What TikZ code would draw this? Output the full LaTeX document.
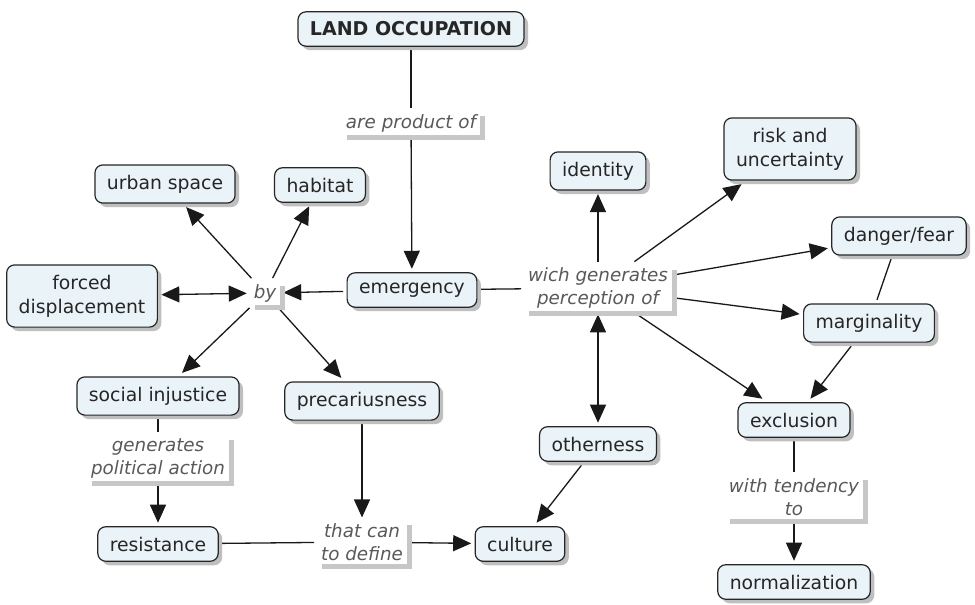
\documentclass[tikz,border=0pt]{standalone}
\usepackage{fontspec}
\setmainfont{DejaVu Sans}
\usetikzlibrary{arrows.meta,shadows}
\definecolor{nodefill}{RGB}{234,243,247}
\pgfdeclarelayer{background}
\pgfsetlayers{background,main}
\begin{document}
\begin{tikzpicture}[x=1pt,y=-1pt,
  concept/.style={draw=black!85, line width=1.2pt, fill=nodefill, rounded corners=8pt,
    inner xsep=12pt, inner ysep=10pt, align=center, font=\fontsize{18.8}{24}\selectfont,
    text=black!85, outer sep=4pt,
    drop shadow={shadow xshift=4pt, shadow yshift=-4pt, fill=black!25, opacity=1}},
  lbl/.style={fill=white, inner xsep=4pt, inner ysep=3pt, align=center,
    font=\fontsize{18.3}{23}\selectfont\itshape, text=black!65, outer sep=3pt,
    drop shadow={shadow xshift=5pt, shadow yshift=-5pt, fill=black!22, opacity=1}},
  conn/.style={line width=1.3pt, draw=black!90},
  arr/.style={conn, -{Triangle[length=18pt,width=16pt]}},
  darr/.style={conn, {Triangle[length=18pt,width=16pt]}-{Triangle[length=18pt,width=16pt]}}
]
\useasboundingbox (0,0) rectangle (975,605);
\begin{pgfonlayer}{background}
\fill[white] (0,0) rectangle (975,605);
\end{pgfonlayer}

% concepts
\node[concept, font=\fontsize{19}{24}\selectfont\bfseries] (land) at (411,29) {LAND OCCUPATION};
\node[concept] (emerg) at (412,290) {emergency};
\node[concept] (urban) at (165,184) {urban space};
\node[concept] (habitat) at (320,185) {habitat};
\node[concept] (forced) at (82,296) {forced\\displacement};
\node[concept] (social) at (158,396) {social injustice};
\node[concept] (prec) at (362,401) {precariusness};
\node[concept] (resist) at (158,544) {resistance};
\node[concept] (culture) at (520,544) {culture};
\node[concept] (other) at (598,444) {otherness};
\node[concept] (ident) at (598,171) {identity};
\node[concept] (risk) at (790,149) {risk and\\uncertainty};
\node[concept] (danger) at (899,236) {danger/fear};
\node[concept] (margin) at (869,323) {marginality};
\node[concept] (excl) at (794,420) {exclusion};
\node[concept] (norm) at (794,582) {normalization};

% link labels
\node[lbl] (prod) at (411,123) {are product of};
\node[lbl] (by) at (265,293) {by};
\node[lbl] (wich) at (598,288) {wich generates\\perception of};
\node[lbl] (gen) at (158,458) {generates\\political action};
\node[lbl] (that) at (362,542) {that can\\to define};
\node[lbl] (tend) at (794,497) {with tendency\\to};

\begin{pgfonlayer}{background}
\draw[conn] (land) -- (prod);
\draw[arr] (prod) -- (emerg);
\draw[arr] (emerg) -- (by);
\draw[arr] (by) -- (urban);
\draw[arr] (by) -- (habitat);
\draw[darr] (forced) -- (by);
\draw[arr] (by) -- (social);
\draw[arr] (by) -- (prec);
\draw[conn] (emerg) -- (wich);
\draw[arr] (wich) -- (ident);
\draw[arr] (wich) -- (risk);
\draw[arr] (wich) -- (danger);
\draw[arr] (wich) -- (margin);
\draw[arr] (wich) -- (excl);
\draw[darr] (wich) -- (other);
\draw[conn] (danger) -- (margin);
\draw[arr] (margin) -- (excl);
\draw[conn] (excl) -- (tend);
\draw[arr] (tend) -- (norm);
\draw[conn] (social) -- (gen);
\draw[arr] (gen) -- (resist);
\draw[conn] (resist) -- (that);
\draw[arr] (prec) -- (that);
\draw[arr] (that) -- (culture);
\draw[arr] (other) -- (culture);
\end{pgfonlayer}
\end{tikzpicture}
\end{document}
